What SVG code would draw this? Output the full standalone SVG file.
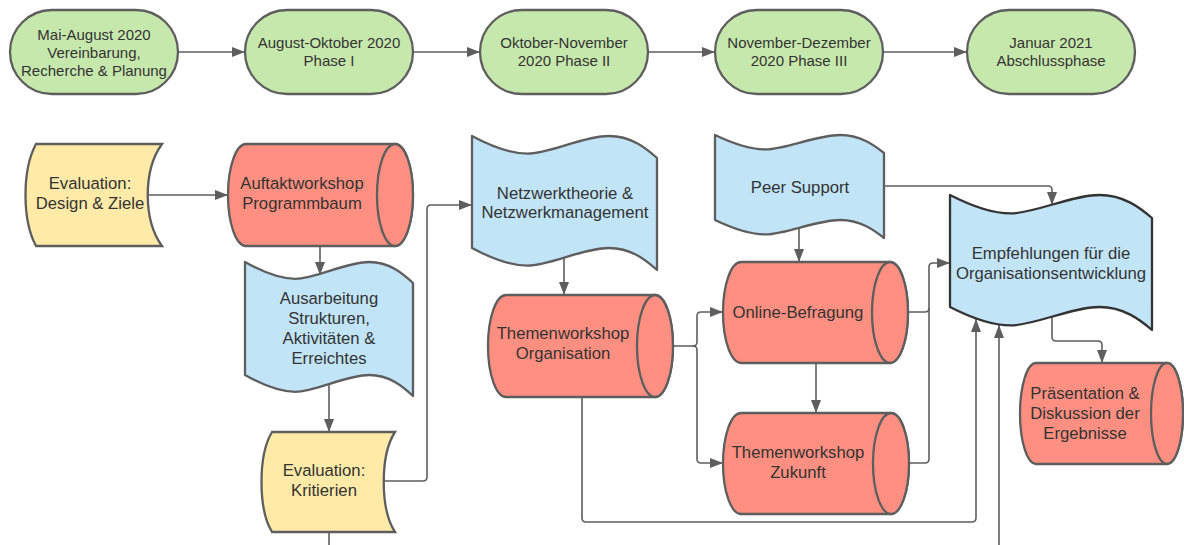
<svg xmlns="http://www.w3.org/2000/svg" width="1184" height="545" viewBox="0 0 1184 545">
<defs>
<marker id="ah" markerUnits="userSpaceOnUse" markerWidth="14" markerHeight="11" refX="13" refY="5" orient="auto">
<path d="M0,0 L13,5 L0,10 Z" fill="#5e5e5e"/>
</marker>
<style>
.stad{fill:#c7e8ac;stroke:#5e5e5e;stroke-width:2.3}
.tape{fill:#c1e4f7;stroke:#5e5e5e;stroke-width:2.3;stroke-linejoin:round}
.cyl{fill:#ff8f80;stroke:#5e5e5e;stroke-width:2.3}
.eval{fill:#ffeaa7;stroke:#5e5e5e;stroke-width:2.3}
.c{fill:none;stroke:#5e5e5e;stroke-width:1.6}
.ca{fill:none;stroke:#5e5e5e;stroke-width:1.6;marker-end:url(#ah)}
text{font-family:"Liberation Sans",Arial,sans-serif;fill:#333;text-anchor:middle;dominant-baseline:central}
.t15{font-size:15px}
.t17{font-size:16.7px}
</style>
</defs>
<rect width="1184" height="545" fill="#fff"/>

<g id="connectors">
<path class="ca" d="M178,52 H245"/>
<path class="ca" d="M413,52 H480"/>
<path class="ca" d="M648,52 H715"/>
<path class="ca" d="M883,52 H967"/>
<path class="ca" d="M149,195 H228"/>
<path class="ca" d="M320,246 V275"/>
<path class="ca" d="M329,385 V432"/>
<path class="ca" d="M383,481 H423 Q427,481 427,477 V209 Q427,205 431,205 H472"/>
<path class="c" d="M329,532 V545"/>
<path class="ca" d="M564,258 V295"/>
<path class="ca" d="M673,346 H693 Q697,346 697,342 V316 Q697,312 701,312 H723"/>
<path class="ca" d="M693,346 Q697,346 697,350 V459 Q697,463 701,463 H723"/>
<path class="ca" d="M582,397 V518 Q582,522 586,522 H972 Q976,522 976,518 V319"/>
<path class="ca" d="M999,545 V325"/>
<path class="ca" d="M799,228 V262"/>
<path class="ca" d="M884,186 H1048 Q1052,186 1052,190 V205"/>
<path class="ca" d="M816,363 V413"/>
<path class="ca" d="M908,312 H925 Q929,312 929,308 V267 Q929,263 933,263 H950"/>
<path class="c" d="M909,463 H925 Q929,463 929,459 V308"/>
<path class="ca" d="M1052,317 V337 Q1052,341 1056,341 H1098 Q1102,341 1102,345 V363"/>
</g>

<g id="n1">
<rect class="stad" x="10" y="10" width="168" height="84" rx="42"/>
<text class="t15" x="94" y="34">Mai-August 2020</text>
<text class="t15" x="94" y="52">Vereinbarung,</text>
<text class="t15" x="94" y="70">Recherche &amp; Planung</text>
</g>
<g id="n2">
<rect class="stad" x="245" y="10" width="168" height="84" rx="42"/>
<text class="t15" x="329" y="42">August-Oktober 2020</text>
<text class="t15" x="329" y="60">Phase I</text>
</g>
<g id="n3">
<rect class="stad" x="480" y="10" width="168" height="84" rx="42"/>
<text class="t15" x="564" y="42">Oktober-November</text>
<text class="t15" x="564" y="60">2020 Phase II</text>
</g>
<g id="n4">
<rect class="stad" x="715" y="10" width="168" height="84" rx="42"/>
<text class="t15" x="799" y="42">November-Dezember</text>
<text class="t15" x="799" y="60">2020 Phase III</text>
</g>
<g id="n5">
<rect class="stad" x="967" y="10" width="168" height="84" rx="42"/>
<text class="t15" x="1051" y="42">Januar 2021</text>
<text class="t15" x="1051" y="60">Abschlussphase</text>
</g>

<g id="evalDesign">
<path class="eval" d="M36,144 H162 C143,170 143,220 162,246 H36 C22,220 22,170 36,144 Z"/>
<text class="t17" x="90" y="183">Evaluation:</text>
<text class="t17" x="90" y="203">Design &amp; Ziele</text>
</g>
<g id="auftakt">
<path class="cyl" d="M246,144 H395 A18,51 0 0 1 395,246 H246 A18,51 0 0 1 246,144 Z"/>
<ellipse class="cyl" cx="395" cy="195" rx="18" ry="51"/>
<text class="t17" x="302" y="183">Auftaktworkshop</text>
<text class="t17" x="302" y="203">Programmbaum</text>
</g>
<g id="ausarbeitung">
<path class="tape" d="M245,262 C261.8,271.5 278.6,278.8 295.4,278.8 C315.6,278.8 345.8,262 369.3,262 C389.5,262 402.9,273.6 413,283 V396 C402.9,386.6 389.5,375 369.3,375 C345.8,375 315.6,391.8 295.4,391.8 C278.6,391.8 261.8,384.5 245,375 Z"/>
<text class="t17" x="329" y="298">Ausarbeitung</text>
<text class="t17" x="329" y="318">Strukturen,</text>
<text class="t17" x="329" y="338">Aktivitäten &amp;</text>
<text class="t17" x="329" y="358">Erreichtes</text>
</g>
<g id="evalKrit">
<path class="eval" d="M272,432 H395 C380,455 380,509 395,532 H272 C258,509 258,455 272,432 Z"/>
<text class="t17" x="324" y="470">Evaluation:</text>
<text class="t17" x="324" y="490">Kritierien</text>
</g>
<g id="netzwerk">
<path class="tape" d="M472,136 C490.5,145.9 509,153.6 527.5,153.6 C549.7,153.6 583,136 608.9,136 C631.1,136 645.9,148.1 657,158 V270 C645.9,260.1 631.1,248 608.9,248 C583,248 549.7,265.6 527.5,265.6 C509,265.6 490.5,257.9 472,248 Z"/>
<text class="t17" x="565" y="193">Netzwerktheorie &amp;</text>
<text class="t17" x="565" y="212">Netzwerkmanagement</text>
</g>
<g id="themOrg">
<path class="cyl" d="M506,295 H655 A18,51 0 0 1 655,397 H506 A18,51 0 0 1 506,295 Z"/>
<ellipse class="cyl" cx="655" cy="346" rx="18" ry="51"/>
<text class="t17" x="563" y="333">Themenworkshop</text>
<text class="t17" x="563" y="353">Organisation</text>
</g>
<g id="peer">
<path class="tape" d="M715,135 C731.9,143.1 748.8,149.4 765.7,149.4 C786,149.4 816.4,135 840.1,135 C860.3,135 873.9,144.9 884,153 V238 C873.9,229.9 860.3,220 840.1,220 C816.4,220 786,234.4 765.7,234.4 C748.8,234.4 731.9,228.1 715,220 Z"/>
<text class="t17" x="800" y="187">Peer Support</text>
</g>
<g id="online">
<path class="cyl" d="M741,262 H890 A18,50.5 0 0 1 890,363 H741 A18,50.5 0 0 1 741,262 Z"/>
<ellipse class="cyl" cx="890" cy="312.5" rx="18" ry="50.5"/>
<text class="t17" x="798" y="312">Online-Befragung</text>
</g>
<g id="zukunft">
<path class="cyl" d="M741,413 H891 A18,50.5 0 0 1 891,514 H741 A18,50.5 0 0 1 741,413 Z"/>
<ellipse class="cyl" cx="891" cy="463.5" rx="18" ry="50.5"/>
<text class="t17" x="798" y="452">Themenworkshop</text>
<text class="t17" x="798" y="472">Zukunft</text>
</g>
<g id="empfehlungen">
<path class="tape" style="stroke:#333" d="M950,195 C970.2,205.35 990.4,213.4 1010.6,213.4 C1034.8,213.4 1071.2,195 1099.5,195 C1123.7,195 1139.9,207.65 1152,218 V330 C1139.9,319.65 1123.7,307 1099.5,307 C1071.2,307 1034.8,325.4 1010.6,325.4 C990.4,325.4 970.2,317.35 950,307 Z"/>
<text class="t17" x="1051" y="253">Empfehlungen für die</text>
<text class="t17" x="1051" y="273">Organisationsentwicklung</text>
</g>
<g id="praesentation">
<path class="cyl" d="M1036,363 H1167 A16,50.5 0 0 1 1167,464 H1036 A16,50.5 0 0 1 1036,363 Z"/>
<ellipse class="cyl" cx="1167" cy="413.5" rx="16" ry="50.5"/>
<text class="t17" x="1085" y="393">Präsentation &amp;</text>
<text class="t17" x="1085" y="413">Diskussion der</text>
<text class="t17" x="1085" y="433">Ergebnisse</text>
</g>
</svg>
